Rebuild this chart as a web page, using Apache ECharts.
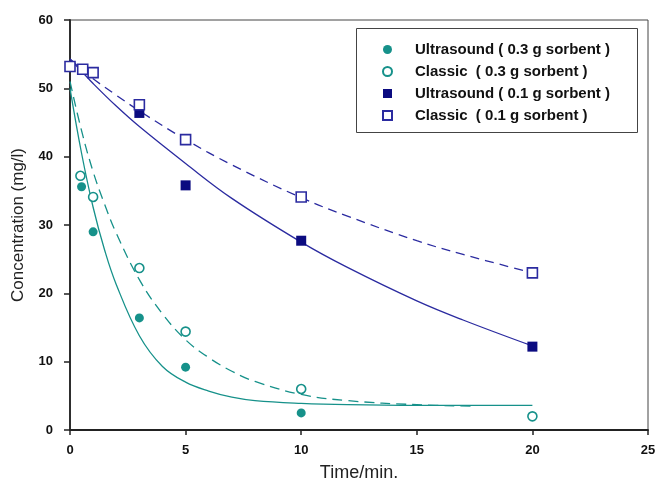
<!DOCTYPE html>
<html>
<head>
<meta charset="utf-8">
<script src="https://cdn.jsdelivr.net/npm/echarts@6/dist/echarts.min.js"></script>
<style>html,body{margin:0;padding:0;background:#fff}#c{width:659px;height:487px}</style>
</head>
<body>
<div id="c"></div>
<script>
// Measured points
var usX03 = [0.5, 1, 3, 5, 10];
var usY03 = [35.6, 29.0, 16.4, 9.2, 2.5];
var clX03 = [0.45, 1, 3, 5, 10, 20];
var clY03 = [37.2, 34.1, 23.7, 14.4, 6.0, 2.0];
var usX01 = [3, 5, 10, 20];
var usY01 = [46.4, 35.8, 27.7, 12.2];
var clX01 = [0, 0.55, 1, 3, 5, 10, 20];
var clY01 = [53.2, 52.8, 52.3, 47.6, 42.5, 34.1, 23.0];

// Fitted curves
var fitUs03X = [0, 0.5, 1, 1.5, 2, 3, 4, 5, 6, 7, 8, 10, 12, 15, 20];
var fitUs03Y = [50, 40.5, 32.6, 26.3, 21.3, 13.8, 9.3, 7.0, 5.7, 4.8, 4.3, 3.9, 3.7, 3.6, 3.6];
var fitCl03X = [0, 0.5, 1, 1.5, 2, 3, 4, 5, 6, 7, 8, 10, 12, 15, 17.5];
var fitCl03Y = [51, 43.8, 37.8, 33.0, 28.8, 22.0, 17.0, 13.2, 10.6, 8.6, 7.1, 5.2, 4.3, 3.7, 3.5];
var fitUs01X = [0, 0.5, 1, 2, 3, 5, 7, 10, 12, 15, 17, 20];
var fitUs01Y = [54.3, 52.5, 50.7, 47.4, 44.4, 39.0, 33.9, 27.5, 23.8, 18.9, 16.1, 12.3];
var fitCl01X = [0, 0.5, 1, 2, 3, 5, 7, 10, 12, 15, 17, 20];
var fitCl01Y = [54.3, 52.8, 51.4, 49.0, 46.7, 42.5, 38.8, 34.0, 31.3, 27.7, 25.7, 23.0];

var xTicks = [0, 5, 10, 15, 20, 25];
var yTicks = [0, 10, 20, 30, 40, 50, 60];

var legendNames = ['Ultrasound ( 0.3 g sorbent )', 'Classic  ( 0.3 g sorbent )', 'Ultrasound ( 0.1 g sorbent )', 'Classic  ( 0.1 g sorbent )'];

var TEAL = '#16918A', NAVY = '#0B0B80', NAVYL = '#2B2BA0';
function zip(xs, ys) { return xs.map(function (x, i) { return [x, ys[i]]; }); }

var chart = echarts.init(document.getElementById('c'), null, {renderer: 'canvas'});
var font = 'Liberation Sans, Arial, sans-serif';
chart.setOption({
  animation: false,
  backgroundColor: '#fff',
  grid: {left: 70, right: 11, top: 20, bottom: 53, show: true, borderColor: '#444', borderWidth: 1},
  xAxis: {
    type: 'value', min: 0, max: 25, interval: 5,
    name: 'Time/min.', nameLocation: 'middle', nameGap: 34,
    nameTextStyle: {fontFamily: font, fontSize: 18, color: '#222'},
    axisLine: {lineStyle: {color: '#222', width: 1.8}},
    axisTick: {length: 5, lineStyle: {color: '#222', width: 1.5}},
    axisLabel: {margin: 14, fontFamily: font, fontWeight: 'bold', fontSize: 13, color: '#111',
      formatter: function (v) { return xTicks.indexOf(v) >= 0 ? String(v) : ''; }},
    splitLine: {show: false}
  },
  yAxis: {
    type: 'value', min: 0, max: 60, interval: 10,
    name: 'Concentration (mg/l)', nameLocation: 'middle', nameGap: 43,
    nameTextStyle: {fontFamily: font, fontSize: 17, color: '#222'},
    axisLine: {show: true, lineStyle: {color: '#222', width: 1.8}},
    axisTick: {show: true, length: 6, lineStyle: {color: '#222', width: 1.5}},
    axisLabel: {margin: 17, fontFamily: font, fontWeight: 'bold', fontSize: 13, color: '#111',
      formatter: function (v) { return yTicks.indexOf(v) >= 0 ? String(v) : ''; }},
    splitLine: {show: false}
  },
  legend: {
    orient: 'vertical', left: 377, top: 37, itemWidth: 9, itemHeight: 9, itemGap: 7,
    data: legendNames,
    textStyle: {fontFamily: font, fontWeight: 'bold', fontSize: 15, color: '#111', padding: [0, 0, 0, 18]}
  },
  graphic: [{type: 'rect', shape: {x: 356.5, y: 28.5, width: 281, height: 104}, style: {fill: 'none', stroke: '#444', lineWidth: 1}, z: 10}],
  series: [
    {type: 'line', data: zip(fitUs03X, fitUs03Y), smooth: 0.4, symbol: 'none', lineStyle: {color: TEAL, width: 1.3}, z: 2},
    {type: 'line', data: zip(fitCl03X, fitCl03Y), smooth: 0.4, symbol: 'none', lineStyle: {color: TEAL, width: 1.3, type: [10, 6]}, z: 2},
    {type: 'line', data: zip(fitUs01X, fitUs01Y), smooth: 0.4, symbol: 'none', lineStyle: {color: NAVYL, width: 1.3}, z: 2},
    {type: 'line', data: zip(fitCl01X, fitCl01Y), smooth: 0.4, symbol: 'none', lineStyle: {color: NAVYL, width: 1.3, type: [9, 6]}, z: 2},
    {name: legendNames[0], type: 'scatter', data: zip(usX03, usY03), symbol: 'circle', symbolSize: 9, itemStyle: {color: TEAL, opacity: 1}, z: 5},
    {name: legendNames[1], type: 'scatter', data: zip(clX03, clY03), symbol: 'circle', symbolSize: 9, itemStyle: {color: '#fff', borderColor: TEAL, borderWidth: 1.6, opacity: 1}, z: 5},
    {name: legendNames[2], type: 'scatter', data: zip(usX01, usY01), symbol: 'rect', symbolSize: 10, itemStyle: {color: NAVY, opacity: 1}, z: 5},
    {name: legendNames[3], type: 'scatter', data: zip(clX01, clY01), symbol: 'rect', symbolSize: 10, itemStyle: {color: '#fff', borderColor: NAVYL, borderWidth: 1.6, opacity: 1}, z: 5}
  ]
});
</script>
</body>
</html>
